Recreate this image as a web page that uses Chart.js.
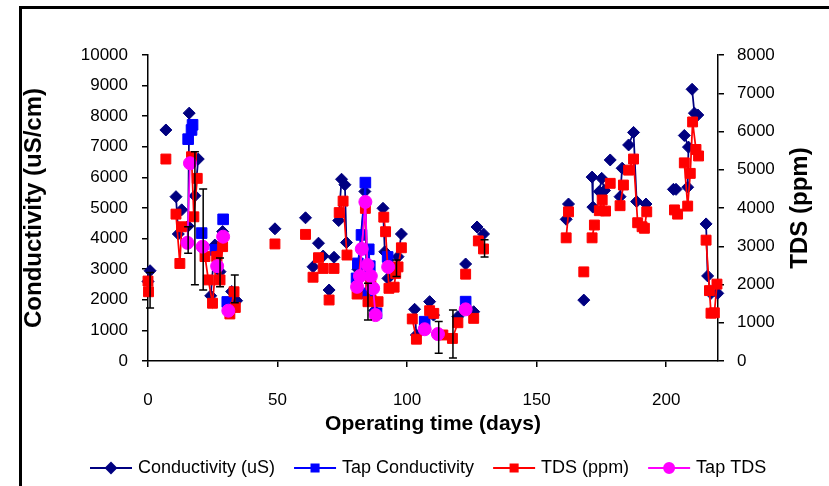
<!DOCTYPE html>
<html>
<head>
<meta charset="utf-8">
<script src="https://cdn.jsdelivr.net/npm/chart.js@4.4.1/dist/chart.umd.min.js"></script>
<style>
  html, body { margin: 0; padding: 0; background: #fff; }
  #wrap { width: 829px; height: 486px; position: relative; }
</style>
</head>
<body>
<div id="wrap"><canvas id="chart" width="829" height="486"></canvas></div>
<script>
// null in a days/values pair = break in the line (separate sampling group)
const condDays = [0, 0.8, null, 6.9, null, 10.8, 11.7, null, 13, null, 15.5, 15.9, null, 18.1, 19.4, null,
  24.2, 25.8, 27.8, 28.8, null, 32.3, 34.2, null, 49, null, 60.8, null, 63.7, null, 65.8, null, 67.6, null,
  69.9, null, 71.8, null, 73.6, 74.7, 76, 76.6, null, 81, 83.7, 85, 87.5, null, 90.7, 91.4, 92.6, null,
  96.5, 97.8, null, 102.9, 103.6, null, 108.7, 110.2, null, 119.6, null, 122.6, null, 125.7, null, 127, 129.5, null,
  161.4, 162.3, null, 168.2, null, 171.4, 171.7, null, 174.2, 175.1, 176.2, null, 178.4, null, 182.2, 183, null,
  185.5, 187.4, 188.6, null, 192.2, null, 202.8, 203.8, null, 207, 208.6, 208.3, null, 210, 210.9, 212.2, null,
  215.4, 216, 217.3, 219.9]
const condValues = [2600, 2950, null, 7550, null, 5370, 4150, null, 4940, null, 4410, 8100, null, 5400, 6600, null,
  2130, 3790, 2920, 4230, null, 2270, 1970, null, 4320, null, 4680, null, 3080, null, 3850, null, 3430, null,
  2320, null, 3390, null, 4590, 5940, 5760, 3870, null, 3000, 5540, 2100, 1650, null, 4990, 3570, 2700, null,
  3410, 4150, null, 1690, 850, null, 1940, 1500, null, 1450, null, 3170, null, 1610, null, 4380, 4150, null,
  4630, 5130, null, 1990, null, 6010, 5030, null, 5540, 5970, 5570, null, 6570, null, 5370, 6300, null,
  7060, 7470, 5210, null, 5130, null, 5610, 5610, null, 7370, 6990, 5680, null, 8880, 8100, 8040, null,
  4480, 2780, 2210, 2210]

const tapCondDays = [15.5, 16.8, 17.2, null, 20.7, null, 26, null, 29, null, 30.6, null,
  80.5, 81, 82.4, 83.9, 84.3, 85.2, 85.6, 88.2, null, 92.5, null, 106.8, null, 122.6]
const tapCondValues = [7250, 7550, 7720, null, 4180, null, 3630, null, 4630, null, 1930, null,
  2700, 3190, 4120, 5830, 2210, 3650, 3100, 1560, null, 3400, null, 1285, null, 1940]

const tdsDays = [0, 0.2, null, 6.9, null, 10.8, 12.3, 13, null, 16.8, 17.7, 19, null,
  22, 23.3, 24.9, 26.5, 27.8, 28.8, null, 31.6, 33.2, 33.7, null, 49, null, 60.8, null, 63.7, null,
  65.8, null, 67.6, null, 69.9, null, 71.8, null, 73.8, 75.3, 76.8, null, 80.7, 83.9, 84.9, 86, 88.8, null,
  91, 91.7, 93, 95, 95.6, 96.5, 97.8, null, 102, 103.6, null, 108.7, 110.3, null, 113.8, 117.5, 119.6, null,
  122.6, null, 125.7, null, 127.5, 129.5, null, 161.4, 162.3, null, 168.2, null, 171.4, 172.3, null,
  174.2, 175.3, 176.6, null, 178.4, null, 182.2, 183.5, null, 185.5, 187.4, 189, 190.7, 191.6, 192.5, null,
  203.2, 204.4, null, 207, 208.3, 209.3, 210.2, 211.5, 212.5, null, 215.4, 216.7, 217.3, 218.6, 219.6]
const tdsValues = [2090, 1810, null, 5280, null, 3840, 2550, 3510, null, 5340, 3770, 4775, null,
  2730, 2120, 1510, 2730, 2120, 2990, null, 1230, 1810, 1400, null, 3060, null, 3310, null, 2190, null,
  2700, null, 2420, null, 1595, null, 2420, null, 3880, 4180, 2770, null, 1750, 3990, 1550, 2000, 1550, null,
  3760, 3380, 1900, 1930, 2290, 2460, 2960, null, 1100, 570, null, 1315, 1245, null, 680, 590, 1000, null,
  2270, null, 1115, null, 3140, 2930, null, 3220, 3900, null, 2330, null, 3220, 3555, null,
  3930, 4210, 3920, null, 4645, null, 4060, 4600, null, 4990, 5280, 3615, 3510, 3470, 3900, null,
  3950, 3840, null, 5180, 4050, 4905, 6250, 5530, 5360, null, 3160, 1840, 1250, 1260, 2010]

const tapTdsDays = [15.2, 16.2, null, 21.1, null, 26.7, null, 29, null, 31, null,
  80.7, 81.8, 82.5, 83.9, 84.7, 86, 86.9, 87.8, null, 92.7, null, 106.8, null, 111.9, null, 122.6]
const tapTdsValues = [3090, 5170, null, 2990, null, 2480, null, 3250, null, 1315, null,
  1940, 2220, 2930, 4160, 2510, 2220, 1900, 1200, null, 2460, null, 830, null, 705, null, 1350]

// error bars on conductivity (uS/cm)
const errDays = [0.8, 15.5, 18.1, 21.3, 27.8, 33.5, 84.9, 95.9, 112.2, 117.7, 129.9]
const errLow = [1730, 3520, 2490, 2320, 2430, 1900, 1340, 2760, 250, 100, 3400]
const errHigh = [2890, 4390, 6840, 5620, 3370, 2810, 2540, 3300, 1290, 1670, 3960]

const FONT = "'Liberation Sans', Arial, sans-serif"
Chart.defaults.font.family = FONT
Chart.defaults.color = "#000"

function toPoints(days, values) {
  return days.map((d, i) => ({ x: d === null ? NaN : d, y: values[i] }))
}

const errorBarPlugin = {
  id: "errorBars",
  afterDatasetsDraw(chart) {
    const { ctx, scales: { x, y } } = chart
    ctx.save()
    ctx.strokeStyle = "#000"
    ctx.lineWidth = 1.5
    errDays.forEach((d, i) => {
      const px = x.getPixelForValue(d)
      const lo = y.getPixelForValue(errLow[i])
      const hi = y.getPixelForValue(errHigh[i])
      ctx.beginPath()
      ctx.moveTo(px, lo); ctx.lineTo(px, hi)
      ctx.moveTo(px - 4, lo); ctx.lineTo(px + 4, lo)
      ctx.moveTo(px - 4, hi); ctx.lineTo(px + 4, hi)
      ctx.stroke()
    })
    ctx.restore()
  }
}

// legend with a line segment and marker, like the spreadsheet one
const lineLegendPlugin = {
  id: "lineLegend",
  afterDraw(chart) {
    const ctx = chart.ctx
    const y = 468
    let x = 90
    ctx.save()
    ctx.font = "18px " + FONT
    ctx.textBaseline = "middle"
    chart.data.datasets.forEach(ds => {
      ctx.strokeStyle = ds.borderColor
      ctx.lineWidth = 2
      ctx.beginPath()
      ctx.moveTo(x, y); ctx.lineTo(x + 42, y)
      ctx.stroke()
      ctx.fillStyle = ds.backgroundColor
      Chart.helpers.drawPoint(ctx, { pointStyle: ds.pointStyle, radius: 5, borderWidth: 1 }, x + 21, y)
      ctx.fillStyle = "#000"
      ctx.fillText(ds.label, x + 48, y)
      x += 48 + ctx.measureText(ds.label).width + 19
    })
    ctx.restore()
  }
}

// right axis title reads bottom-to-top in the original
const rightTitlePlugin = {
  id: "rightTitle",
  afterDraw(chart) {
    const { ctx, chartArea } = chart
    ctx.save()
    ctx.translate(800, (chartArea.top + chartArea.bottom) / 2)
    ctx.rotate(-Math.PI / 2)
    ctx.font = "bold 24px " + FONT
    ctx.fillStyle = "#000"
    ctx.textAlign = "center"
    ctx.textBaseline = "middle"
    ctx.fillText("TDS (ppm)", 0, 0)
    ctx.restore()
  }
}

const framePlugin = {
  id: "frame",
  afterDraw(chart) {
    const ctx = chart.ctx
    ctx.save()
    ctx.fillStyle = "#000"
    ctx.fillRect(19, 6, chart.width - 19, 3)
    ctx.fillRect(19, 6, 3, chart.height - 6)
    ctx.restore()
  }
}

const tickOpts = { color: "#000", font: { size: 17 }, callback: v => String(v) }
const gridOpts = { drawOnChartArea: false, tickLength: 6, color: "#000", lineWidth: 1.5 }
const borderOpts = { color: "#000", width: 1.5 }

new Chart(document.getElementById("chart"), {
  type: "scatter",
  data: {
    datasets: [
      {
        label: "Conductivity (uS)",
        data: toPoints(condDays, condValues),
        yAxisID: "y",
        borderColor: "#000080",
        backgroundColor: "#000080",
        pointStyle: "rectRot",
        pointRadius: 6,
        order: 4
      },
      {
        label: "Tap Conductivity",
        data: toPoints(tapCondDays, tapCondValues),
        yAxisID: "y",
        borderColor: "#0000ff",
        backgroundColor: "#0000ff",
        pointStyle: "rect",
        pointRadius: 7.5,
        order: 3
      },
      {
        label: "TDS (ppm)",
        data: toPoints(tdsDays, tdsValues),
        yAxisID: "y2",
        borderColor: "#ff0000",
        backgroundColor: "#ff0000",
        pointStyle: "rect",
        pointRadius: 7,
        order: 2
      },
      {
        label: "Tap TDS",
        data: toPoints(tapTdsDays, tapTdsValues),
        yAxisID: "y2",
        borderColor: "#ff00ff",
        backgroundColor: "#ff00ff",
        pointStyle: "circle",
        pointRadius: 6.5,
        order: 1
      }
    ].map(ds => Object.assign(ds, {
      showLine: true,
      spanGaps: false,
      borderWidth: 1.75,
      pointBorderWidth: 1,
      pointBorderColor: ds.borderColor,
      clip: false
    }))
  },
  options: {
    responsive: false,
    animation: false,
    layout: { padding: { left: 20, right: 15, top: 55, bottom: 45 } },
    plugins: {
      legend: { display: false },
      tooltip: { enabled: false }
    },
    scales: {
      x: {
        type: "linear",
        min: 0,
        max: 220,
        afterBuildTicks: s => { s.ticks = s.ticks.filter(t => t.value % 50 === 0) },
        ticks: { ...tickOpts, stepSize: 50, padding: 23 },
        grid: gridOpts,
        border: borderOpts,
        title: {
          display: true,
          text: "Operating time (days)",
          color: "#000",
          font: { size: 21, weight: "bold" },
          padding: { top: 0, bottom: 4 }
        },
        afterFit: s => { s.height = 80 }
      },
      y: {
        position: "left",
        min: 0,
        max: 10000,
        ticks: { ...tickOpts, stepSize: 1000, padding: 14 },
        grid: gridOpts,
        border: borderOpts,
        title: {
          display: true,
          text: "Conductivity (uS/cm)",
          color: "#000",
          font: { size: 24, weight: "bold" },
          padding: 0
        },
        afterFit: s => { s.width = 128 }
      },
      y2: {
        position: "right",
        min: 0,
        max: 8000,
        ticks: { ...tickOpts, stepSize: 1000, padding: 13 },
        grid: gridOpts,
        border: borderOpts,
        afterFit: s => { s.width = 96 }
      }
    }
  },
  plugins: [errorBarPlugin, lineLegendPlugin, rightTitlePlugin, framePlugin]
})
</script>
</body>
</html>
